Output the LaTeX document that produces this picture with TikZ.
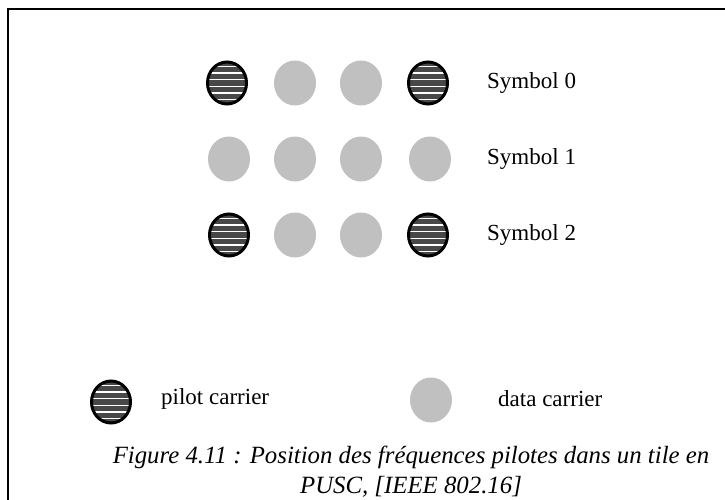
\documentclass[tikz,border=0pt]{standalone}
\usepackage{fontspec}
\setmainfont{Liberation Serif}
\usetikzlibrary{shapes.geometric}
\definecolor{datagray}{RGB}{192,192,192}
\definecolor{pilotgray}{RGB}{72,72,72}
\tikzset{
  datac/.style={ellipse, fill=datagray, draw=none, minimum width=42pt, minimum height=45pt, inner sep=0pt},
  pilotc/.style={ellipse, fill=pilotgray, draw=black, line width=3pt, minimum width=39pt, minimum height=42pt, inner sep=0pt,
    path picture={
      \foreach \k in {-2.5,-1.5,...,2.5}{
        \draw[white, line width=1.5pt] ([xshift=-30pt,yshift=\k*6.6pt]path picture bounding box.center) -- ++(60pt,0);
      }
    }},
  lbl/.style={anchor=west, inner sep=0pt, font=\fontsize{23}{27}\selectfont},
  captext/.style={align=center, inner sep=0pt, font=\fontsize{24.8}{30}\selectfont\itshape},
  frameline/.style={line width=2pt}
}
\begin{document}
\begin{tikzpicture}[x=1pt,y=-1pt]
\useasboundingbox (0,0) rectangle (725,500);
\fill[white] (0,0) rectangle (725,500);
\coordinate (fb) at (8,505);
\coordinate (fc) at (8,9);
\coordinate (fr) at (730,9);
\draw[frameline] (fb) -- (fc) -- (fr);
% row 0
\node[pilotc] (r0c0) at (227,83) {};
\node[datac]  (r0c1) at (295,83) {};
\node[datac]  (r0c2) at (361,83) {};
\node[pilotc] (r0c3) at (428,83) {};
\node[lbl] (s0) at (487,83) {Symbol 0};
% row 1
\node[datac] (r1c0) at (229,159) {};
\node[datac] (r1c1) at (295,159) {};
\node[datac] (r1c2) at (361,159) {};
\node[datac] (r1c3) at (430,159) {};
\node[lbl] (s1) at (487,159) {Symbol 1};
% row 2
\node[pilotc] (r2c0) at (229,235) {};
\node[datac]  (r2c1) at (295,235) {};
\node[datac]  (r2c2) at (361,235) {};
\node[pilotc] (r2c3) at (428,235) {};
\node[lbl] (s2) at (487,235) {Symbol 2};
% legend
\node[pilotc] (lp) at (111,402) {};
\node[lbl] (lpt) at (161,399) {pilot carrier};
\node[datac] (ld) at (431,400) {};
\node[lbl] (ldt) at (498,399) {data carrier};
% caption
\node[captext] (caption) at (411,472) {Figure 4.11 : Position des fréquences pilotes dans un tile en\\PUSC, [IEEE 802.16]};
\end{tikzpicture}
\end{document}
